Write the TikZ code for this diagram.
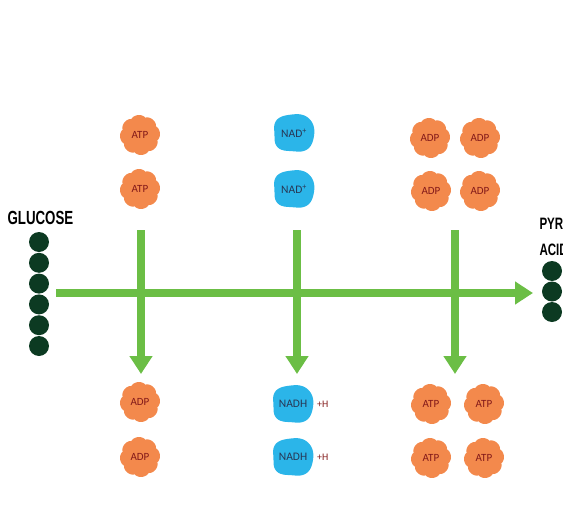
\documentclass[tikz,border=0pt]{standalone}
\usepackage{fontspec}
\setmainfont{Carlito}
\newfontfamily\headfont[FakeStretch=0.7]{Liberation Sans}
\usetikzlibrary{arrows.meta}
\definecolor{glyorange}{RGB}{243,137,76}
\definecolor{glyred}{RGB}{130,25,25}
\definecolor{glyblue}{RGB}{43,181,233}
\definecolor{glynavy}{RGB}{40,55,85}
\definecolor{glygreen}{RGB}{107,190,69}
\definecolor{glydark}{RGB}{12,58,34}
\tikzset{
  flow/.style={draw=glygreen, line width=8pt, -{Triangle[length=18pt,width=22pt]}},
  gearlabel/.style={font=\fontsize{11}{12}\selectfont, text=glyred},
  cloudlabel/.style={font=\fontsize{11.5}{12}\selectfont, text=glynavy},
  title/.style={font=\headfont\bfseries\fontsize{19}{26}\selectfont, text=black},
}
% orange ATP/ADP molecule
\newcommand\gear[3]{%
  \fill[glyorange, shift={(#2)}] plot[smooth cycle, samples=144, domain=0:357.5] (\x:{17.6+2.4*sqrt(abs(cos(4*\x+22.5)))});
  \node[gearlabel] (#1) at (#2) {#3};}
% blue NAD molecule
\newcommand\cloud[3]{%
  \fill[glyblue, shift={(#2)}] plot[smooth cycle, samples=72, domain=0:355]
    ({21*cos(\x)*(1+0.05*cos(4*\x+180)+0.02*cos(5*\x+30))}, {19.5*sin(\x)*(1+0.05*cos(4*\x+180)+0.02*cos(5*\x+30))});
  \node[cloudlabel] (#1) at (#2) {#3};}
\begin{document}
\begin{tikzpicture}[x=1pt, y=-1pt]
  \useasboundingbox (0,0) rectangle (563,525);
  \clip (0,0) rectangle (563,525);
  %
  \node[title, anchor=base west] (glclabel) at (4,224) {GLUCOSE};
  \foreach \i in {0,...,5}
    \fill[glydark] (39,242+20.8*\i) circle (10pt);
  %
  \node[title, anchor=base west, font=\headfont\bfseries\fontsize{16.5}{26}\selectfont, align=left] (pyrlabel) at (536,255) {PYRUVIC\\ACID};
  \foreach \i in {0,...,2}
    \fill[glydark] (552,271+20.5*\i) circle (10pt);
  %
  % top row
  \gear{atpA}{140,135}{ATP}
  \gear{atpB}{140,189}{ATP}
  \cloud{nadA}{294,133}{NAD\textsuperscript{+}}
  \cloud{nadB}{294,189}{NAD\textsuperscript{+}}
  \gear{adpA}{430,138}{ADP}
  \gear{adpB}{480,138}{ADP}
  \gear{adpC}{431,191}{ADP}
  \gear{adpD}{480,191}{ADP}
  %
  % bottom row
  \gear{adpE}{140,402}{ADP}
  \gear{adpF}{140,457}{ADP}
  \cloud{nadhA}{293,404}{NADH}
  \cloud{nadhB}{293,457}{NADH}
  \node[gearlabel, font=\fontsize{10}{11}\selectfont, anchor=west, inner sep=0pt] (hA) at (317,404) {+H};
  \node[gearlabel, font=\fontsize{10}{11}\selectfont, anchor=west, inner sep=0pt] (hB) at (317,457) {+H};
  \gear{atpC}{431,404}{ATP}
  \gear{atpD}{484,404}{ATP}
  \gear{atpE}{431,458}{ATP}
  \gear{atpF}{484,458}{ATP}
  %
  % arrows
  \coordinate (glcout) at (56,293);
  \coordinate (pyrin) at (533,293);
  \draw[flow] (glcout) -- (pyrin);
  \foreach \name/\xx in {one/141, two/297, three/455} {
    \coordinate (\name top) at (\xx,230);
    \coordinate (\name bot) at (\xx,374);
    \draw[flow] (\name top) -- (\name bot);
  }
\end{tikzpicture}
\end{document}
